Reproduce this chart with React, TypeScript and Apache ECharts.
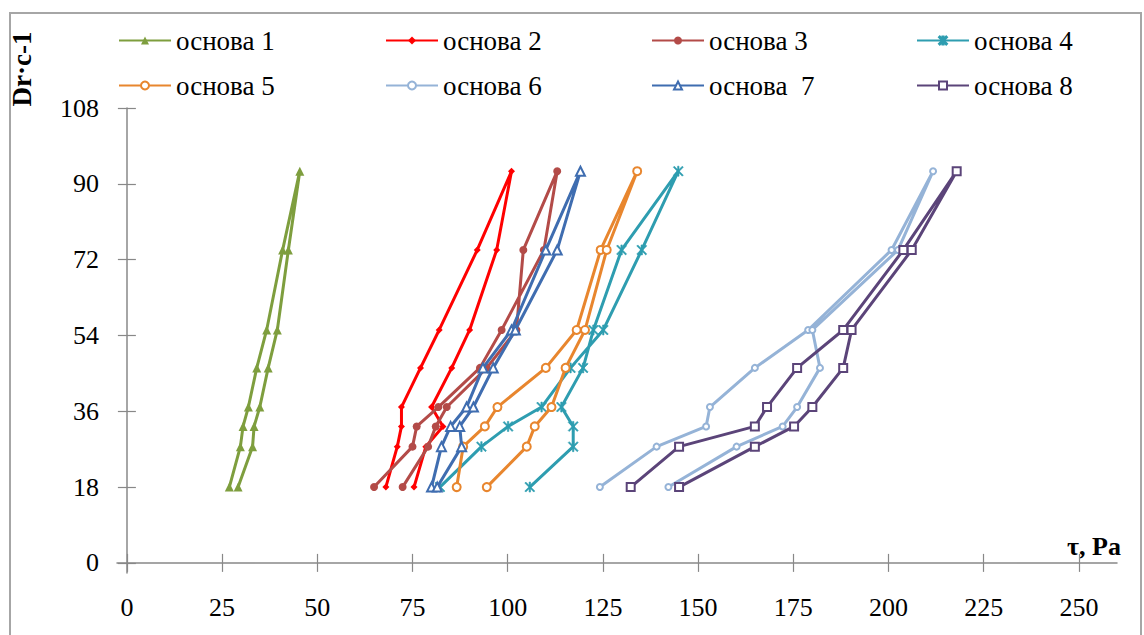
import React, { useEffect, useRef } from "react";
import * as echarts from "echarts";

// Shear rate levels (Dr, c-1)
const shearRates = [18, 27.6, 32.4, 37, 46.3, 55.3, 74.3, 93];

// Shear stress τ, Pa – ascending branch (18 → 93) and descending branch (18 → 74.3)
const b1Up = [26.9, 29.8, 30.5, 31.9, 34.1, 36.7, 40.9, 45.4];
const b1Down = [29.2, 33.0, 33.4, 34.9, 37.1, 39.5, 42.4];
const b2Up = [68.0, 71.0, 72.1, 72.1, 77.1, 82.0, 92.0, 101.0];
const b2Down = [75.4, 78.5, 83.0, 80.0, 85.3, 90.0, 97.1];
const b3Up = [64.9, 75.0, 76.1, 81.8, 92.7, 98.4, 109.5, 113.0];
const b3Down = [72.4, 79.1, 81.1, 84.0, 94.5, 102.3, 104.1];
const b4Up = [82.2, 93.1, 100.1, 108.9, 116.5, 125.1, 135.2, 144.8];
const b4Down = [105.8, 117.2, 117.2, 114.1, 119.8, 122.5, 129.9];
const b5Up = [86.6, 88.3, 94.0, 97.3, 110.0, 118.1, 124.4, 134.0];
const b5Down = [94.5, 105.0, 107.1, 111.5, 115.2, 120.3, 126.0];
const b6Up = [124.2, 139.1, 152.1, 153.1, 164.9, 178.9, 200.8, 211.7];
const b6Down = [142.2, 160.1, 172.2, 176.0, 182.0, 180.0, 202.5];
const b7Up = [80.0, 82.6, 85.0, 89.2, 93.5, 101.0, 110.0, 119.1];
const b7Down = [81.5, 87.9, 87.4, 91.0, 96.2, 102.0, 113.0];
const b8Up = [132.3, 145.0, 164.9, 168.1, 176.0, 188.1, 203.9, 217.9];
const b8Down = [145.0, 164.9, 175.2, 180.0, 188.1, 190.3, 206.1];

const seriesNames = [
  "основа 1",
  "основа 2",
  "основа 3",
  "основа 4",
  "основа 5",
  "основа 6",
  "основа  7",
  "основа 8",
];

const xTicks = [0, 25, 50, 75, 100, 125, 150, 175, 200, 225, 250];
const yTicks = [0, 18, 36, 54, 72, 90, 108];

const FONT = "Liberation Serif";

const ASTERISK =
  "path://M4.3,0H5.7V10H4.3Z M0,1L1,0L10,9L9,10Z M9,0L10,1L1,10L0,9Z";

function loop(up: number[], down: number[]): number[][] {
  const pts: number[][] = [];
  for (let i = 0; i < up.length; i++) pts.push([up[i], shearRates[i]]);
  for (let i = down.length - 1; i >= 0; i--) pts.push([down[i], shearRates[i]]);
  return pts;
}

const styles = [
  { color: "#7E9E3E", symbol: "triangle", size: 9 },
  { color: "#FF0000", symbol: "diamond", size: 7 },
  { color: "#B34B48", symbol: "circle", size: 8 },
  { color: "#2E9DB0", symbol: ASTERISK, size: 10 },
  { color: "#E8862E", symbol: "emptyCircle", size: 8 },
  { color: "#95B3D7", symbol: "emptyCircle", size: 6 },
  { color: "#3F6DB0", symbol: "emptyTriangle", size: 9 },
  { color: "#5B4479", symbol: "emptyRect", size: 8 },
];

const loops = [
  loop(b1Up, b1Down),
  loop(b2Up, b2Down),
  loop(b3Up, b3Down),
  loop(b4Up, b4Down),
  loop(b5Up, b5Down),
  loop(b6Up, b6Down),
  loop(b7Up, b7Down),
  loop(b8Up, b8Down),
];

const legendCols = [118, 385, 651, 916];
const legendRows = [27, 72];

export default function App() {
  const ref = useRef<HTMLDivElement>(null);

  useEffect(() => {
    if (!ref.current) return;
    const chart = echarts.init(ref.current, undefined, { renderer: "svg" });

    const series = loops.map((data, i) => {
      const st = styles[i];
      const isAst = st.symbol === ASTERISK;
      return {
        name: seriesNames[i],
        type: "line",
        data,
        symbol: st.symbol,
        symbolSize: st.size,
        showAllSymbol: true,
        lineStyle: { color: st.color, width: 3 },
        itemStyle: isAst
          ? { color: st.color, borderColor: st.color, borderWidth: 0.6 }
          : { color: st.color, borderColor: st.color, borderWidth: st.symbol.startsWith("empty") ? 1.6 : 0 },
        emphasis: { disabled: true },
        z: 2 + i,
      };
    });

    const legends = seriesNames.map((name, i) => ({
      data: [name],
      left: legendCols[i % 4],
      top: legendRows[Math.floor(i / 4)],
      orient: "horizontal",
      itemWidth: 52,
      itemHeight: 10,
      padding: 0,
      selectedMode: false,
      textStyle: { fontFamily: FONT, fontSize: 27, color: "#000" },
    }));

    const commonAxisLine = { lineStyle: { color: "#888888", width: 1.5 } };

    chart.setOption({
      animation: false,
      backgroundColor: "#fff",
      legend: legends,
      grid: { left: 117, right: 27, top: 108, bottom: 62, containLabel: false },
      xAxis: [
        {
          type: "value",
          min: -2.6,
          max: 260,
          position: "bottom",
          axisLine: { show: true, onZero: true, onZeroAxisIndex: 0, ...commonAxisLine },
          axisTick: { show: true, length: 9, customValues: xTicks, lineStyle: { color: "#888888", width: 1.2 } },
          axisLabel: {
            customValues: xTicks,
            margin: 21,
            fontFamily: FONT,
            fontSize: 26,
            color: "#000",
          },
          splitLine: { show: false },
        },
        {
          type: "value",
          min: -2.6,
          max: 260,
          position: "bottom",
          axisLine: { show: false, onZero: true, onZeroAxisIndex: 0 },
          axisTick: { show: true, inside: true, length: 9, customValues: xTicks, lineStyle: { color: "#888888", width: 1.2 } },
          axisLabel: { show: false },
          splitLine: { show: false },
        },
      ],
      yAxis: [
        {
          type: "value",
          min: -2.4,
          max: 108,
          position: "left",
          axisLine: { show: true, onZero: true, onZeroAxisIndex: 0, ...commonAxisLine },
          axisTick: { show: true, length: 9, customValues: yTicks, lineStyle: { color: "#888888", width: 1.2 } },
          axisLabel: {
            customValues: yTicks,
            margin: 18,
            fontFamily: FONT,
            fontSize: 26,
            color: "#000",
          },
          splitLine: { show: false },
        },
        {
          type: "value",
          min: -2.4,
          max: 108,
          position: "left",
          axisLine: { show: false, onZero: true, onZeroAxisIndex: 0 },
          axisTick: { show: true, inside: true, length: 9, customValues: yTicks, lineStyle: { color: "#888888", width: 1.2 } },
          axisLabel: { show: false },
          splitLine: { show: false },
        },
      ],
      graphic: [
        {
          type: "rect",
          shape: { x: 10, y: 13, width: 1131, height: 640 },
          style: { fill: "none", stroke: "#A6A6A6", lineWidth: 2 },
          silent: true,
        },
        {
          type: "text",
          x: 1094,
          y: 546,
          style: {
            text: "τ, Pa",
            font: `bold 26px ${FONT}`,
            fill: "#000",
            align: "center",
            verticalAlign: "middle",
          },
        },
        {
          type: "text",
          x: 22,
          y: 69,
          rotation: Math.PI / 2,
          style: {
            text: "Dr·c-1",
            font: `bold 27px ${FONT}`,
            fill: "#000",
            align: "center",
            verticalAlign: "middle",
          },
        },
      ],
      series,
    });

    return () => chart.dispose();
  }, []);

  return (
    <div
      ref={ref}
      style={{ position: "fixed", left: 0, top: 0, width: 1144, height: 635, background: "#fff" }}
    />
  );
}
